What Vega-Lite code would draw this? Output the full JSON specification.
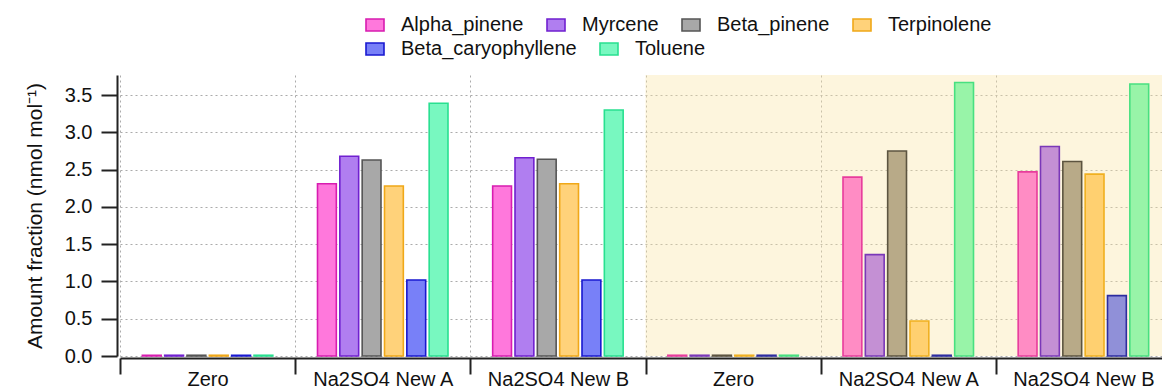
{
  "$schema": "https://vega.github.io/schema/vega-lite/v6.json",
  "width": 1042,
  "height": 281,
  "autosize": {"type": "none"},
  "padding": {"left": 120, "top": 75, "right": 0, "bottom": 32},
  "background": "white",
  "config": {
    "font": "Liberation Sans",
    "view": {"stroke": null},
    "legend": {
      "title": null,
      "orient": "none",
      "direction": "horizontal",
      "symbolType": "M-1,-0.667H1V0.667H-1Z",
      "symbolSize": 324,
      "symbolStrokeWidth": 1.6,
      "symbolOpacity": 1,
      "labelFontSize": 20,
      "labelFont": "Liberation Sans",
      "labelColor": "#111",
      "labelLimit": 400,
      "labelOffset": 16,
      "columnPadding": 19
    },
    "axis": {
      "labelFont": "Liberation Sans",
      "labelFontSize": 20,
      "labelColor": "#111",
      "domainColor": "#222",
      "domainWidth": 2,
      "tickColor": "#222",
      "tickWidth": 2,
      "tickSize": 16,
      "gridColor": "#ababab",
      "gridDash": [2, 3],
      "gridWidth": 1,
      "titleFont": "Liberation Sans",
      "titleFontSize": 21,
      "titleFontWeight": "normal",
      "titleColor": "#111"
    }
  },
  "datasets": {
    "values": [
      {"slot": "Zero|1", "session": 1, "compound": "Alpha_pinene", "value": 0.01},
      {"slot": "Zero|1", "session": 1, "compound": "Myrcene", "value": 0.01},
      {"slot": "Zero|1", "session": 1, "compound": "Beta_pinene", "value": 0.01},
      {"slot": "Zero|1", "session": 1, "compound": "Terpinolene", "value": 0.01},
      {"slot": "Zero|1", "session": 1, "compound": "Beta_caryophyllene", "value": 0.01},
      {"slot": "Zero|1", "session": 1, "compound": "Toluene", "value": 0.01},
      {"slot": "Na2SO4 New A|1", "session": 1, "compound": "Alpha_pinene", "value": 2.31},
      {"slot": "Na2SO4 New A|1", "session": 1, "compound": "Myrcene", "value": 2.68},
      {"slot": "Na2SO4 New A|1", "session": 1, "compound": "Beta_pinene", "value": 2.63},
      {"slot": "Na2SO4 New A|1", "session": 1, "compound": "Terpinolene", "value": 2.28},
      {"slot": "Na2SO4 New A|1", "session": 1, "compound": "Beta_caryophyllene", "value": 1.02},
      {"slot": "Na2SO4 New A|1", "session": 1, "compound": "Toluene", "value": 3.39},
      {"slot": "Na2SO4 New B|1", "session": 1, "compound": "Alpha_pinene", "value": 2.28},
      {"slot": "Na2SO4 New B|1", "session": 1, "compound": "Myrcene", "value": 2.66},
      {"slot": "Na2SO4 New B|1", "session": 1, "compound": "Beta_pinene", "value": 2.64},
      {"slot": "Na2SO4 New B|1", "session": 1, "compound": "Terpinolene", "value": 2.31},
      {"slot": "Na2SO4 New B|1", "session": 1, "compound": "Beta_caryophyllene", "value": 1.02},
      {"slot": "Na2SO4 New B|1", "session": 1, "compound": "Toluene", "value": 3.30},
      {"slot": "Zero|2", "session": 2, "compound": "Alpha_pinene", "value": 0.01},
      {"slot": "Zero|2", "session": 2, "compound": "Myrcene", "value": 0.01},
      {"slot": "Zero|2", "session": 2, "compound": "Beta_pinene", "value": 0.01},
      {"slot": "Zero|2", "session": 2, "compound": "Terpinolene", "value": 0.01},
      {"slot": "Zero|2", "session": 2, "compound": "Beta_caryophyllene", "value": 0.01},
      {"slot": "Zero|2", "session": 2, "compound": "Toluene", "value": 0.01},
      {"slot": "Na2SO4 New A|2", "session": 2, "compound": "Alpha_pinene", "value": 2.40},
      {"slot": "Na2SO4 New A|2", "session": 2, "compound": "Myrcene", "value": 1.36},
      {"slot": "Na2SO4 New A|2", "session": 2, "compound": "Beta_pinene", "value": 2.75},
      {"slot": "Na2SO4 New A|2", "session": 2, "compound": "Terpinolene", "value": 0.47},
      {"slot": "Na2SO4 New A|2", "session": 2, "compound": "Beta_caryophyllene", "value": 0.01},
      {"slot": "Na2SO4 New A|2", "session": 2, "compound": "Toluene", "value": 3.67},
      {"slot": "Na2SO4 New B|2", "session": 2, "compound": "Alpha_pinene", "value": 2.47},
      {"slot": "Na2SO4 New B|2", "session": 2, "compound": "Myrcene", "value": 2.81},
      {"slot": "Na2SO4 New B|2", "session": 2, "compound": "Beta_pinene", "value": 2.61},
      {"slot": "Na2SO4 New B|2", "session": 2, "compound": "Terpinolene", "value": 2.44},
      {"slot": "Na2SO4 New B|2", "session": 2, "compound": "Beta_caryophyllene", "value": 0.81},
      {"slot": "Na2SO4 New B|2", "session": 2, "compound": "Toluene", "value": 3.65}
    ],
    "shade": [
      {"slot": "Zero|2"},
      {"slot": "Na2SO4 New A|2"},
      {"slot": "Na2SO4 New B|2"}
    ]
  },
  "layer": [
    {
      "data": {"name": "shade"},
      "mark": {"type": "bar", "fill": "#fbe6a6", "opacity": 0.38, "strokeWidth": 0},
      "encoding": {
        "x": {"field": "slot", "type": "nominal"},
        "y": {"datum": 3.77, "type": "quantitative"},
        "y2": {"datum": 0}
      }
    },
    {
      "data": {"name": "values"},
      "transform": [
        {"filter": "datum.session == 1"},
        {"filter": {"field": "compound", "oneOf": ["Alpha_pinene", "Myrcene", "Beta_pinene", "Terpinolene"]}}
      ],
      "mark": {"type": "bar", "strokeWidth": 1.6},
      "encoding": {
        "x": {
          "field": "slot",
          "type": "nominal",
          "title": null,
          "scale": {
            "domain": ["Zero|1", "Na2SO4 New A|1", "Na2SO4 New B|1", "Zero|2", "Na2SO4 New A|2", "Na2SO4 New B|2"],
            "range": [0, 1051],
            "paddingInner": 0,
            "paddingOuter": 0
          },
          "axis": {
            "labelAngle": 0,
            "labelAlign": "center",
            "labelBaseline": "top",
            "tickBand": "extent",
            "grid": true,
            "offset": 2,
            "labelPadding": -5,
            "labelExpr": "split(datum.label, '|')[0]"
          }
        },
        "xOffset": {
          "field": "compound",
          "type": "nominal",
          "scale": {
            "domain": ["Alpha_pinene", "Myrcene", "Beta_pinene", "Terpinolene", "Beta_caryophyllene", "Toluene"],
            "paddingInner": 0.157,
            "paddingOuter": 1.25
          }
        },
        "y": {
          "field": "value",
          "type": "quantitative",
          "title": "Amount fraction (nmol mol⁻¹)",
          "scale": {"domain": [0, 3.77], "nice": false},
          "axis": {
            "values": [0, 0.5, 1, 1.5, 2, 2.5, 3, 3.5],
            "format": ".1f",
            "offset": 3,
            "tickSize": 16,
            "labelPadding": 9,
            "grid": true,
            "titlePadding": 19
          }
        },
        "fill": {
          "field": "compound",
          "type": "nominal",
          "scale": {
            "domain": ["Alpha_pinene", "Myrcene", "Beta_pinene", "Terpinolene"],
            "range": ["#ff78dc", "#b07ef0", "#a8a8a8", "#ffd27a"]
          },
          "legend": {"legendX": 245, "legendY": -60}
        },
        "stroke": {
          "field": "compound",
          "type": "nominal",
          "scale": {
            "domain": ["Alpha_pinene", "Myrcene", "Beta_pinene", "Terpinolene"],
            "range": ["#d81cb0", "#7020d0", "#555555", "#f0a818"]
          },
          "legend": {"legendX": 245, "legendY": -60}
        }
      }
    },
    {
      "data": {"name": "values"},
      "transform": [
        {"filter": "datum.session == 1"},
        {"filter": {"field": "compound", "oneOf": ["Beta_caryophyllene", "Toluene"]}}
      ],
      "mark": {"type": "bar", "strokeWidth": 1.6},
      "encoding": {
        "x": {"field": "slot", "type": "nominal"},
        "xOffset": {"field": "compound", "type": "nominal"},
        "y": {"field": "value", "type": "quantitative"},
        "fill": {
          "field": "compound",
          "type": "nominal",
          "scale": {
            "domain": ["Beta_caryophyllene", "Toluene"],
            "range": ["#7880f8", "#78f8c0"]
          },
          "legend": {"legendX": 245, "legendY": -36}
        },
        "stroke": {
          "field": "compound",
          "type": "nominal",
          "scale": {
            "domain": ["Beta_caryophyllene", "Toluene"],
            "range": ["#1818d0", "#28e090"]
          },
          "legend": {"legendX": 245, "legendY": -36}
        }
      }
    },
    {
      "data": {"name": "values"},
      "transform": [{"filter": "datum.session == 2"}],
      "mark": {"type": "bar", "strokeWidth": 1.6},
      "encoding": {
        "x": {"field": "slot", "type": "nominal"},
        "xOffset": {"field": "compound", "type": "nominal"},
        "y": {"field": "value", "type": "quantitative"},
        "fill": {
          "field": "compound",
          "type": "nominal",
          "scale": {
            "domain": ["Alpha_pinene", "Myrcene", "Beta_pinene", "Terpinolene", "Beta_caryophyllene", "Toluene"],
            "range": ["#ff8cc4", "#c490d4", "#b8aa88", "#ffd070", "#9090d8", "#98f4a8"]
          },
          "legend": null
        },
        "stroke": {
          "field": "compound",
          "type": "nominal",
          "scale": {
            "domain": ["Alpha_pinene", "Myrcene", "Beta_pinene", "Terpinolene", "Beta_caryophyllene", "Toluene"],
            "range": ["#e83c9c", "#7a38b8", "#5c5440", "#f0b020", "#2c2ca0", "#48e080"]
          },
          "legend": null
        }
      }
    }
  ],
  "resolve": {"scale": {"fill": "independent", "stroke": "independent"}}
}
